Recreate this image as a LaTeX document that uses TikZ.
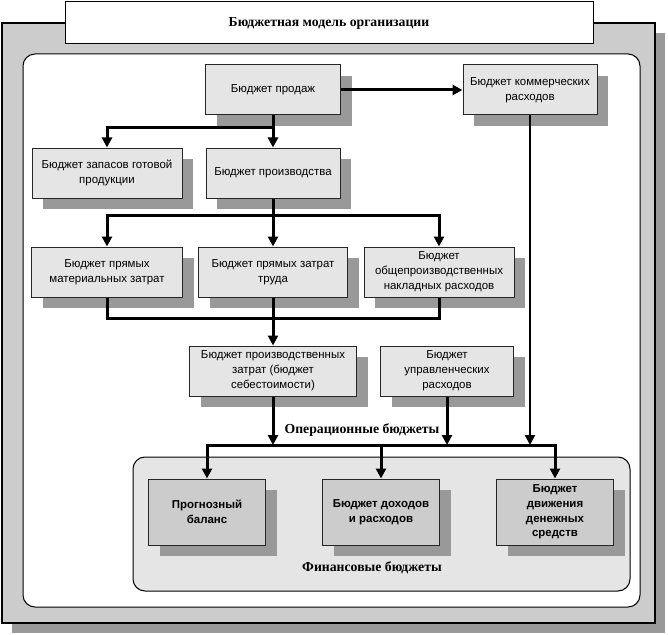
\documentclass[tikz,border=0pt]{standalone}
\usepackage{fontspec}
\setmainfont{Liberation Sans}
\newfontfamily\captionfont{Liberation Serif}
\usetikzlibrary{positioning, arrows.meta, shadows}

\begin{document}
\begin{tikzpicture}
% Style
[
    x=.75pt, y=-.75pt, line join=miter,
    font=\fontsize{8.6}{11.2}\selectfont,
    box/.style={
        draw=black!85, line width=.75pt, fill=black!10, align=center, shape=rectangle,
        minimum width=#1*.75pt, minimum height=50*.75pt, inner sep=1pt,
        drop shadow={shadow xshift=8.25pt, shadow yshift=-8.25pt, fill=black!40, opacity=1}
    },
    fbox/.style={box=117, fill=black!20, minimum height=66*.75pt, font=\fontsize{8.6}{11}\selectfont\bfseries},
    link/.style={line width=2.25pt},
    flow/.style={link, -{Triangle[length=7.5pt, width=7.5pt]}},
    caption/.style={font=\captionfont\fontsize{10.3}{12}\selectfont\bfseries}
]

\useasboundingbox (0,0) rectangle (668,635);

%=================================== Start ===================================
{
    % frame
    \fill[black!40] (12,33) rectangle (665,633);
    \draw[fill=black!20, line width=1pt] (2,23) rectangle (655,623);
    \node[draw, fill=white, line width=.75pt, minimum width=528*.75pt, minimum height=42*.75pt, caption] (title) at (329,23) {Бюджетная модель организации};
    \draw[fill=white, line width=.75pt, rounded corners=9pt] (23,54) rectangle (640,607);
    \draw[fill=black!10, line width=.75pt, rounded corners=9pt] (133,457) rectangle (630,591);

    % operational budgets
    \node[box=135] (b-sales) at (273,90)  {Бюджет продаж};
    \node[box=134] (b-comm)  at (530,90)  {Бюджет коммерческих\\расходов};
    \node[box=150] (b-stock) at (107,173) {Бюджет запасов готовой\\продукции};
    \node[box=134] (b-prod)  at (273,173) {Бюджет производства};
    \node[box=151] (b-mat)   at (107,272) {Бюджет прямых\\материальных затрат};
    \node[box=149] (b-lab)   at (273,272) {Бюджет прямых затрат\\труда};
    \node[box=150] (b-ovh)   at (439,272) {Бюджет\\общепроизводственных\\накладных расходов};
    \node[box=167] (b-cost)  at (273,371) {Бюджет производственных\\затрат (бюджет\\себестоимости)};
    \node[box=133] (b-mgmt)  at (447,371) {Бюджет\\управленческих\\расходов};

    % financial budgets
    \node[fbox] (f-bal)  at (207,512) {Прогнозный\\баланс};
    \node[fbox] (f-inc)  at (381,512) {Бюджет доходов\\и расходов};
    \node[fbox] (f-cash) at (555,512) {Бюджет\\движения\\денежных\\средств};

    \coordinate (j-sales) at (273,128);
    \coordinate (j-prod)  at (273,215);
    \coordinate (j-cost)  at (273,318);
    \coordinate (j-fin)   at (381,445);

    \draw[flow] (b-sales) -- (b-comm);
    \draw[flow] (b-sales) -- (b-prod);
    \draw[flow] (j-sales) -| (b-stock);

    \draw[flow] (b-prod) -- (b-lab);
    \foreach \b in {mat, ovh} {
        \draw[flow] (j-prod) -| (b-\b);
        \draw[link] (b-\b) |- (j-cost);
    }
    \draw[flow] (b-lab) -- (b-cost);

    \foreach \b in {cost, mgmt} {
        \draw[flow] (b-\b) -- (b-\b |- j-fin);
    }
    \draw[flow, line width=1.6pt] (b-comm) -- (b-comm |- j-fin);
    \draw[flow] (j-fin) -- (f-inc);
    \foreach \f in {bal, cash} {
        \draw[flow] (j-fin) -| (f-\f);
    }

    \node[caption] (ops) at (362,430) {Операционные бюджеты};
    \node[caption] (fin) at (372,568) {Финансовые бюджеты};
}
%==================================== END ====================================

\end{tikzpicture}
\end{document}
